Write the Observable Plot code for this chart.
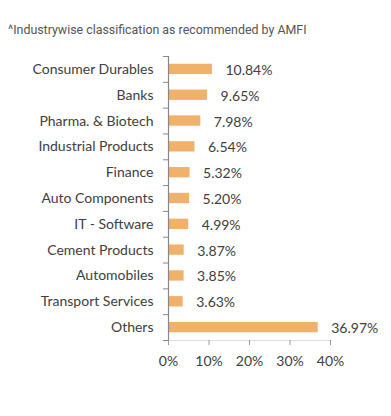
<!DOCTYPE html>
<html>
<head>
<meta charset="utf-8">
<script src="https://cdn.jsdelivr.net/npm/d3@7"></script>
<script src="https://cdn.jsdelivr.net/npm/@observablehq/plot@0.6"></script>
<style>
  html, body { margin: 0; padding: 0; background: #fff; }
  #title { height: 40px; box-sizing: border-box; padding: 22px 0 0 8px; font: 12.4px Roboto, sans-serif; line-height: 16px; color: #555; white-space: nowrap; }
  svg { display: block; }
</style>
</head>
<body>
<div id="title">^Industrywise classification as recommended by AMFI</div>
<div id="chart"></div>
<script>
const categories = ["Consumer Durables", "Banks", "Pharma. & Biotech", "Industrial Products", "Finance", "Auto Components", "IT - Software", "Cement Products", "Automobiles", "Transport Services", "Others"];
const values = [10.84, 9.65, 7.98, 6.54, 5.32, 5.20, 4.99, 3.87, 3.85, 3.63, 36.97];
const xTicks = [0, 10, 20, 30, 40];

const data = categories.map((c, i) => ({category: c, value: values[i]}));

const height = 376, marginTop = 16, marginBottom = 76;
const step = (height - marginTop - marginBottom) / categories.length;
const textColor = "#404040";

const chart = Plot.plot({
  width: 391,
  height,
  marginLeft: 168,
  marginRight: 61,
  marginTop,
  marginBottom,
  style: {fontFamily: "Lato, sans-serif", background: "#fff"},
  x: {domain: [0, 40], ticks: xTicks, tickFormat: d => d + "%"},
  y: {domain: categories, paddingInner: 0.6, paddingOuter: 0.3, round: false},
  marks: [
    Plot.barX(data, {x: "value", y: "category", fill: "#f0b16a"}),
    Plot.text(data, {x: "value", y: "category", text: d => d.value.toFixed(2) + "%", textAnchor: "start", dx: 13, dy: 1, fontSize: 14, fill: textColor}),
    Plot.frame({anchor: "bottom", stroke: "#ddd"}),
    Plot.axisX({ticks: xTicks, tickFormat: d => d + "%", tickSize: 5, tickPadding: 11, stroke: "#999", fill: textColor, fontSize: 14, label: null}),
    Plot.ruleX([0], {stroke: "#888", strokeWidth: 1.2}),
    Plot.axisY({tickSize: 0, tickPadding: 15, fill: textColor, fontSize: 14, label: null}),
    Plot.axisY({tickSize: 5, text: null, dy: -step / 2, stroke: "#888", label: null}),
    Plot.axisY({ticks: categories.slice(-1), tickSize: 5, text: null, dy: step / 2, stroke: "#888", label: null})
  ]
});
document.getElementById("chart").append(chart);
</script>
</body>
</html>
